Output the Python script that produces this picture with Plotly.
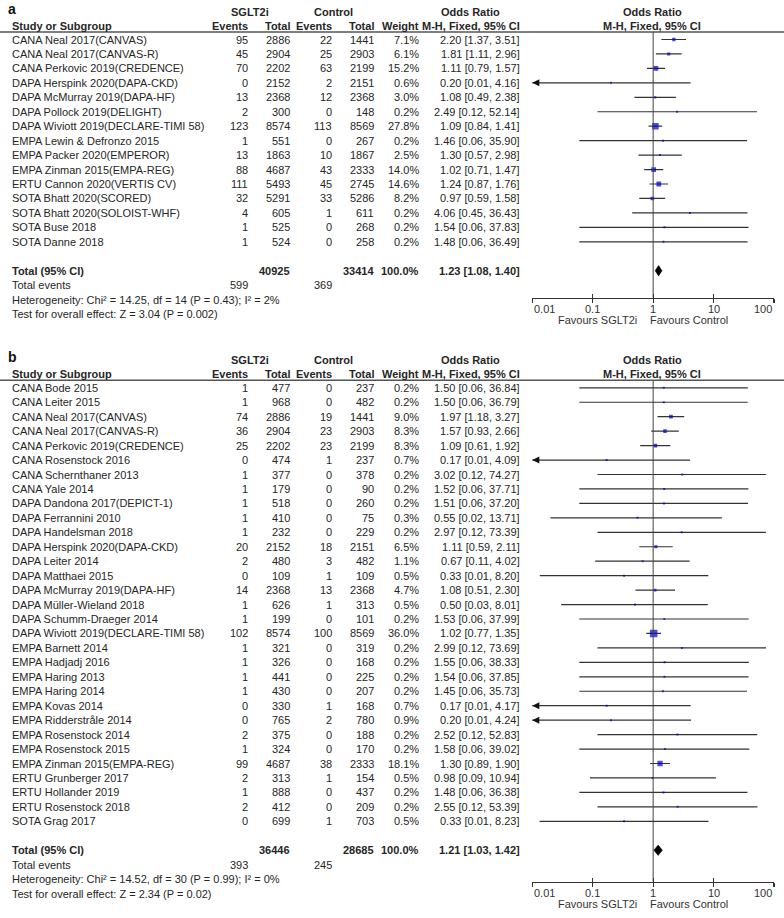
import math
import plotly.graph_objects as go

# ---------------- data: panel a ----------------
studies_a = ["CANA Neal 2017(CANVAS)", "CANA Neal 2017(CANVAS-R)", "CANA Perkovic 2019(CREDENCE)",
             "DAPA Herspink 2020(DAPA-CKD)", "DAPA McMurray 2019(DAPA-HF)", "DAPA Pollock 2019(DELIGHT)",
             "DAPA Wiviott 2019(DECLARE-TIMI 58)", "EMPA Lewin & Defronzo 2015", "EMPA Packer 2020(EMPEROR)",
             "EMPA Zinman 2015(EMPA-REG)", "ERTU Cannon 2020(VERTIS CV)", "SOTA Bhatt 2020(SCORED)",
             "SOTA Bhatt 2020(SOLOIST-WHF)", "SOTA Buse 2018", "SOTA Danne 2018"]
ev1_a = [95, 45, 70, 0, 13, 2, 123, 1, 13, 88, 111, 32, 4, 1, 1]
tot1_a = [2886, 2904, 2202, 2152, 2368, 300, 8574, 551, 1863, 4687, 5493, 5291, 605, 525, 524]
ev2_a = [22, 25, 63, 2, 12, 0, 113, 0, 10, 43, 45, 33, 1, 0, 0]
tot2_a = [1441, 2903, 2199, 2151, 2368, 148, 8569, 267, 1867, 2333, 2745, 5286, 611, 268, 258]
w_a = [7.1, 6.1, 15.2, 0.6, 3.0, 0.2, 27.8, 0.2, 2.5, 14.0, 14.6, 8.2, 0.2, 0.2, 0.2]
or_a = [2.20, 1.81, 1.11, 0.20, 1.08, 2.49, 1.09, 1.46, 1.30, 1.02, 1.24, 0.97, 4.06, 1.54, 1.48]
lo_a = [1.37, 1.11, 0.79, 0.0096, 0.49, 0.12, 0.84, 0.06, 0.57, 0.71, 0.87, 0.59, 0.45, 0.06, 0.06]
hi_a = [3.51, 2.96, 1.57, 4.16, 2.38, 52.14, 1.41, 35.90, 2.98, 1.47, 1.76, 1.58, 36.43, 37.83, 36.49]
total_a = dict(or_=1.23, lo=1.08, hi=1.40, weight="100.0%",
               het="Heterogeneity: Chi² = 14.25, df = 14 (P = 0.43); I² = 2%",
               test="Test for overall effect: Z = 3.04 (P = 0.002)")

# ---------------- data: panel b ----------------
studies_b = ["CANA Bode 2015", "CANA Leiter 2015", "CANA Neal 2017(CANVAS)", "CANA Neal 2017(CANVAS-R)",
             "CANA Perkovic 2019(CREDENCE)", "CANA Rosenstock 2016", "CANA Schernthaner 2013", "CANA Yale 2014",
             "DAPA Dandona 2017(DEPICT-1)", "DAPA Ferrannini 2010", "DAPA Handelsman 2018",
             "DAPA Herspink 2020(DAPA-CKD)", "DAPA Leiter 2014", "DAPA Matthaei 2015",
             "DAPA McMurray 2019(DAPA-HF)", "DAPA Müller-Wieland 2018", "DAPA Schumm-Draeger 2014",
             "DAPA Wiviott 2019(DECLARE-TIMI 58)", "EMPA Barnett 2014", "EMPA Hadjadj 2016", "EMPA Haring 2013",
             "EMPA Haring 2014", "EMPA Kovas 2014", "EMPA Ridderstråle 2014", "EMPA Rosenstock 2014",
             "EMPA Rosenstock 2015", "EMPA Zinman 2015(EMPA-REG)", "ERTU Grunberger 2017", "ERTU Hollander 2019",
             "ERTU Rosenstock 2018", "SOTA Grag 2017"]
ev1_b = [1, 1, 74, 36, 25, 0, 1, 1, 1, 1, 1, 20, 2, 0, 14, 1, 1, 102, 1, 1, 1, 1, 0, 0, 2, 1, 99, 2, 1, 2, 0]
tot1_b = [477, 968, 2886, 2904, 2202, 474, 377, 179, 518, 410, 232, 2152, 480, 109, 2368, 626, 199, 8574,
          321, 326, 441, 430, 330, 765, 375, 324, 4687, 313, 888, 412, 699]
ev2_b = [0, 0, 19, 23, 23, 1, 0, 0, 0, 0, 0, 18, 3, 1, 13, 1, 0, 100, 0, 0, 0, 0, 1, 2, 0, 0, 38, 1, 0, 0, 1]
tot2_b = [237, 482, 1441, 2903, 2199, 237, 378, 90, 260, 75, 229, 2151, 482, 109, 2368, 313, 101, 8569,
          319, 168, 225, 207, 168, 780, 188, 170, 2333, 154, 437, 209, 703]
w_b = [0.2, 0.2, 9.0, 8.3, 8.3, 0.7, 0.2, 0.2, 0.2, 0.3, 0.2, 6.5, 1.1, 0.5, 4.7, 0.5, 0.2, 36.0,
       0.2, 0.2, 0.2, 0.2, 0.7, 0.9, 0.2, 0.2, 18.1, 0.5, 0.2, 0.2, 0.5]
or_b = [1.50, 1.50, 1.97, 1.57, 1.09, 0.17, 3.02, 1.52, 1.51, 0.55, 2.97, 1.11, 0.67, 0.33, 1.08, 0.50, 1.53,
        1.02, 2.99, 1.55, 1.54, 1.45, 0.17, 0.20, 2.52, 1.58, 1.30, 0.98, 1.48, 2.55, 0.33]
lo_b = [0.06, 0.06, 1.18, 0.93, 0.61, 0.0071, 0.12, 0.06, 0.06, 0.02, 0.12, 0.59, 0.11, 0.0133, 0.51, 0.03,
        0.06, 0.77, 0.12, 0.06, 0.06, 0.06, 0.0069, 0.0094, 0.12, 0.06, 0.89, 0.09, 0.06, 0.12, 0.0132]
hi_b = [36.84, 36.79, 3.27, 2.66, 1.92, 4.09, 74.27, 37.71, 37.20, 13.71, 73.39, 2.11, 4.02, 8.20, 2.30, 8.01,
        37.99, 1.35, 73.69, 38.33, 37.85, 35.73, 4.17, 4.24, 52.83, 39.02, 1.90, 10.94, 36.38, 53.39, 8.23]
total_b = dict(or_=1.21, lo=1.03, hi=1.42, weight="100.0%",
               het="Heterogeneity: Chi² = 14.52, df = 30 (P = 0.99); I² = 0%",
               test="Test for overall effect: Z = 2.34 (P = 0.02)")

tick_vals = [0.01, 0.1, 1, 10, 100]
tick_text = ["0.01", "0.1", "1", "10", "100"]

# ---------------- layout constants (pixels) ----------------
W, H = 784, 918
S = 14.45                  # row pitch
Y0A, Y0B = 39.5, 387.8     # pixel centre of first study row
AXA, AXB = 297.5, 881.5    # pixel y of the x-axis lines
X_LO, X_HI = 532.3, 774.0  # pixel span of the log axis
COL = dict(name=10, ev1=250, tot1=292, ev2=334, tot2=376, w=421, ci=522, grp1=250, grp2=333,
           orh=471, plot=652)
FONT = "Liberation Sans, Arial, sans-serif"
TXT = "#262626"
LINE = "#333333"
BLUE = "#0000cc"

fig = go.Figure()
annotations = []
shapes = []


def ann(text, xpx, y, yref, anchor="left", bold=False, size=11, color=TXT, xref="paper", yanchor="middle",
        pad=1):
    annotations.append(dict(text=f"<b>{text}</b>" if bold else text,
                            x=xpx / W if xref == "paper" else xpx, xref=xref, y=y, yref=yref,
                            xanchor=anchor, yanchor=yanchor, showarrow=False, borderpad=pad,
                            font=dict(family=FONT, size=size, color=color)))


def panel(letter, yref, xlog, xlog_top, y0, axis_px, studies, ev1, tot1, ev2, tot2, w, orr, lo, hi, tot):
    def row(px):
        return 1 + (px - y0) / S

    n = len(studies)
    ylab = yref
    # headers
    ann(letter, 7, row(max(0.0, y0 - 39.5)), ylab, bold=True, size=14, color="#111", yanchor="top", pad=0)
    ann("SGLT2i", COL["grp1"], row(y0 - 28), ylab, "center", True)
    ann("Control", COL["grp2"], row(y0 - 28), ylab, "center", True)
    ann("Odds Ratio", COL["orh"], row(y0 - 28), ylab, "center", True)
    ann("Odds Ratio", COL["plot"], row(y0 - 28), ylab, "center", True)
    hr = row(y0 - 14)
    ann("Study or Subgroup", COL["name"], hr, ylab, "left", True)
    ann("Events", COL["ev1"], hr, ylab, "right", True)
    ann("Total", COL["tot1"], hr, ylab, "right", True)
    ann("Events", COL["ev2"], hr, ylab, "right", True)
    ann("Total", COL["tot2"], hr, ylab, "right", True)
    ann("Weight", COL["w"], hr, ylab, "right", True)
    ann("M-H, Fixed, 95% CI", COL["ci"], hr, ylab, "right", True)
    ann("M-H, Fixed, 95% CI", COL["plot"], hr, ylab, "center", True)
    under = row(y0 - 7.5)
    shapes.append(dict(type="line", xref="paper", x0=0, x1=1, yref=ylab, y0=under, y1=under,
                       line=dict(color="#555", width=1.5)))

    rows = list(range(1, n + 1))
    for i, r in enumerate(rows):
        ann(studies[i], COL["name"], r, ylab)
        ann(str(ev1[i]), COL["ev1"], r, ylab, "right")
        ann(str(tot1[i]), COL["tot1"], r, ylab, "right")
        ann(str(ev2[i]), COL["ev2"], r, ylab, "right")
        ann(str(tot2[i]), COL["tot2"], r, ylab, "right")
        ann(f"{w[i]:.1f}%", COL["w"], r, ylab, "right")
        ann(f"{orr[i]:.2f} [{lo[i]:.2f}, {hi[i]:.2f}]", COL["ci"], r, ylab, "right")

    tr = n + 2
    ann("Total (95% CI)", COL["name"], tr, ylab, bold=True)
    ann(str(sum(tot1)), COL["tot1"], tr, ylab, "right", True)
    ann(str(sum(tot2)), COL["tot2"], tr, ylab, "right", True)
    ann(tot["weight"], COL["w"], tr, ylab, "right", True)
    ann(f"{tot['or_']:.2f} [{tot['lo']:.2f}, {tot['hi']:.2f}]", COL["ci"], tr, ylab, "right", True)
    ann("Total events", COL["name"], tr + 1, ylab)
    ann(str(sum(ev1)), COL["ev1"], tr + 1, ylab, "right")
    ann(str(sum(ev2)), COL["ev2"], tr + 1, ylab, "right")
    ann(tot["het"], COL["name"], tr + 2, ylab)
    ann(tot["test"], COL["name"], tr + 3, ylab)

    # vertical line of no effect
    fig.add_trace(go.Scatter(x=[1, 1], y=[under, row(axis_px)], mode="lines", xaxis=xlog_top, yaxis=yref,
                             line=dict(color="#444", width=1), hoverinfo="skip", showlegend=False))
    # CI lines
    xs, ys = [], []
    for i, r in enumerate(rows):
        xs += [lo[i], hi[i], None]
        ys += [r, r, None]
    fig.add_trace(go.Scatter(x=xs, y=ys, mode="lines", xaxis=xlog, yaxis=yref,
                             line=dict(color=LINE, width=1.2), hoverinfo="skip", showlegend=False))
    # arrows where CI runs past the axis
    xmin = tick_vals[0]
    arr_r = [r for i, r in enumerate(rows) if lo[i] < xmin]
    fig.add_trace(go.Scatter(x=[xmin] * len(arr_r), y=arr_r, mode="markers", xaxis=xlog, yaxis=yref,
                             marker=dict(symbol="arrow-left", size=7, color="#111", line=dict(width=0)),
                             cliponaxis=False, hoverinfo="skip", showlegend=False))
    # weight squares
    fig.add_trace(go.Scatter(x=orr, y=rows, mode="markers", xaxis=xlog, yaxis=yref,
                             marker=dict(symbol="square", color=BLUE,
                                         size=[max(2.0, 1.25 * math.sqrt(v)) for v in w], line=dict(width=0)),
                             hoverinfo="skip", showlegend=False))
    # pooled diamond
    h = 5.2 / S
    fig.add_trace(go.Scatter(x=[tot["lo"], tot["or_"], tot["hi"], tot["or_"], tot["lo"]],
                             y=[tr, tr - h, tr, tr + h, tr], mode="lines", fill="toself",
                             fillcolor="#000", line=dict(color="#000", width=0.6), xaxis=xlog, yaxis=yref,
                             hoverinfo="skip", showlegend=False))
    # tick labels and favours labels
    lab_r = row(axis_px + 11.5)
    for k, (v, t) in enumerate(zip(tick_vals, tick_text)):
        anchor = "left" if k == 0 else ("right" if k == len(tick_vals) - 1 else "center")
        ann(t, math.log10(v), lab_r, ylab, anchor, xref=xlog, color="#333")
    fav_r = row(axis_px + 22.5)
    ann("Favours SGLT2i", 639, fav_r, ylab, "right", color="#333")
    ann("Favours Control", 648, fav_r, ylab, "left", color="#333")


panel("a", "y3", "x2", "x4", Y0A, AXA, studies_a, ev1_a, tot1_a, ev2_a, tot2_a, w_a, or_a, lo_a, hi_a, total_a)
panel("b", "y2", "x3", "x5", Y0B, AXB, studies_b, ev1_b, tot1_b, ev2_b, tot2_b, w_b, or_b, lo_b, hi_b, total_b)


def yrange(y0):
    return [1 + (H - y0) / S, 1 - y0 / S]


dom = [X_LO / W, X_HI / W]
base_x = dict(type="log", range=[-2, 2], anchor="free", showgrid=False, zeroline=False,
              tickvals=tick_vals, showticklabels=False, tickcolor="#333", tickwidth=1.2, ticklen=4)
fig.update_layout(
    width=W, height=H, margin=dict(l=0, r=0, t=0, b=0),
    paper_bgcolor="white", plot_bgcolor="rgba(0,0,0,0)", showlegend=False,
    xaxis=dict(visible=False),
    yaxis=dict(visible=False),
    yaxis3=dict(visible=False, range=yrange(Y0A), domain=[0, 1], anchor="free", position=0),
    yaxis2=dict(visible=False, range=yrange(Y0B), domain=[0, 1], anchor="free", position=0),
    xaxis2=dict(base_x, domain=dom, position=1 - AXA / H, showline=True, linecolor="#333", linewidth=1.2,
                ticks="outside"),
    xaxis3=dict(base_x, domain=dom, position=1 - AXB / H, showline=True, linecolor="#333", linewidth=1.2,
                ticks="outside"),
    xaxis4=dict(base_x, overlaying="x2", position=1 - AXA / H, showline=False, ticks="inside"),
    xaxis5=dict(base_x, overlaying="x3", position=1 - AXB / H, showline=False, ticks="inside"),
    annotations=annotations, shapes=shapes,
)

fig.write_html("out.html", config={"displayModeBar": False, "staticPlot": True},
               post_script="document.body.style.margin='0';document.body.style.overflow='hidden';")
